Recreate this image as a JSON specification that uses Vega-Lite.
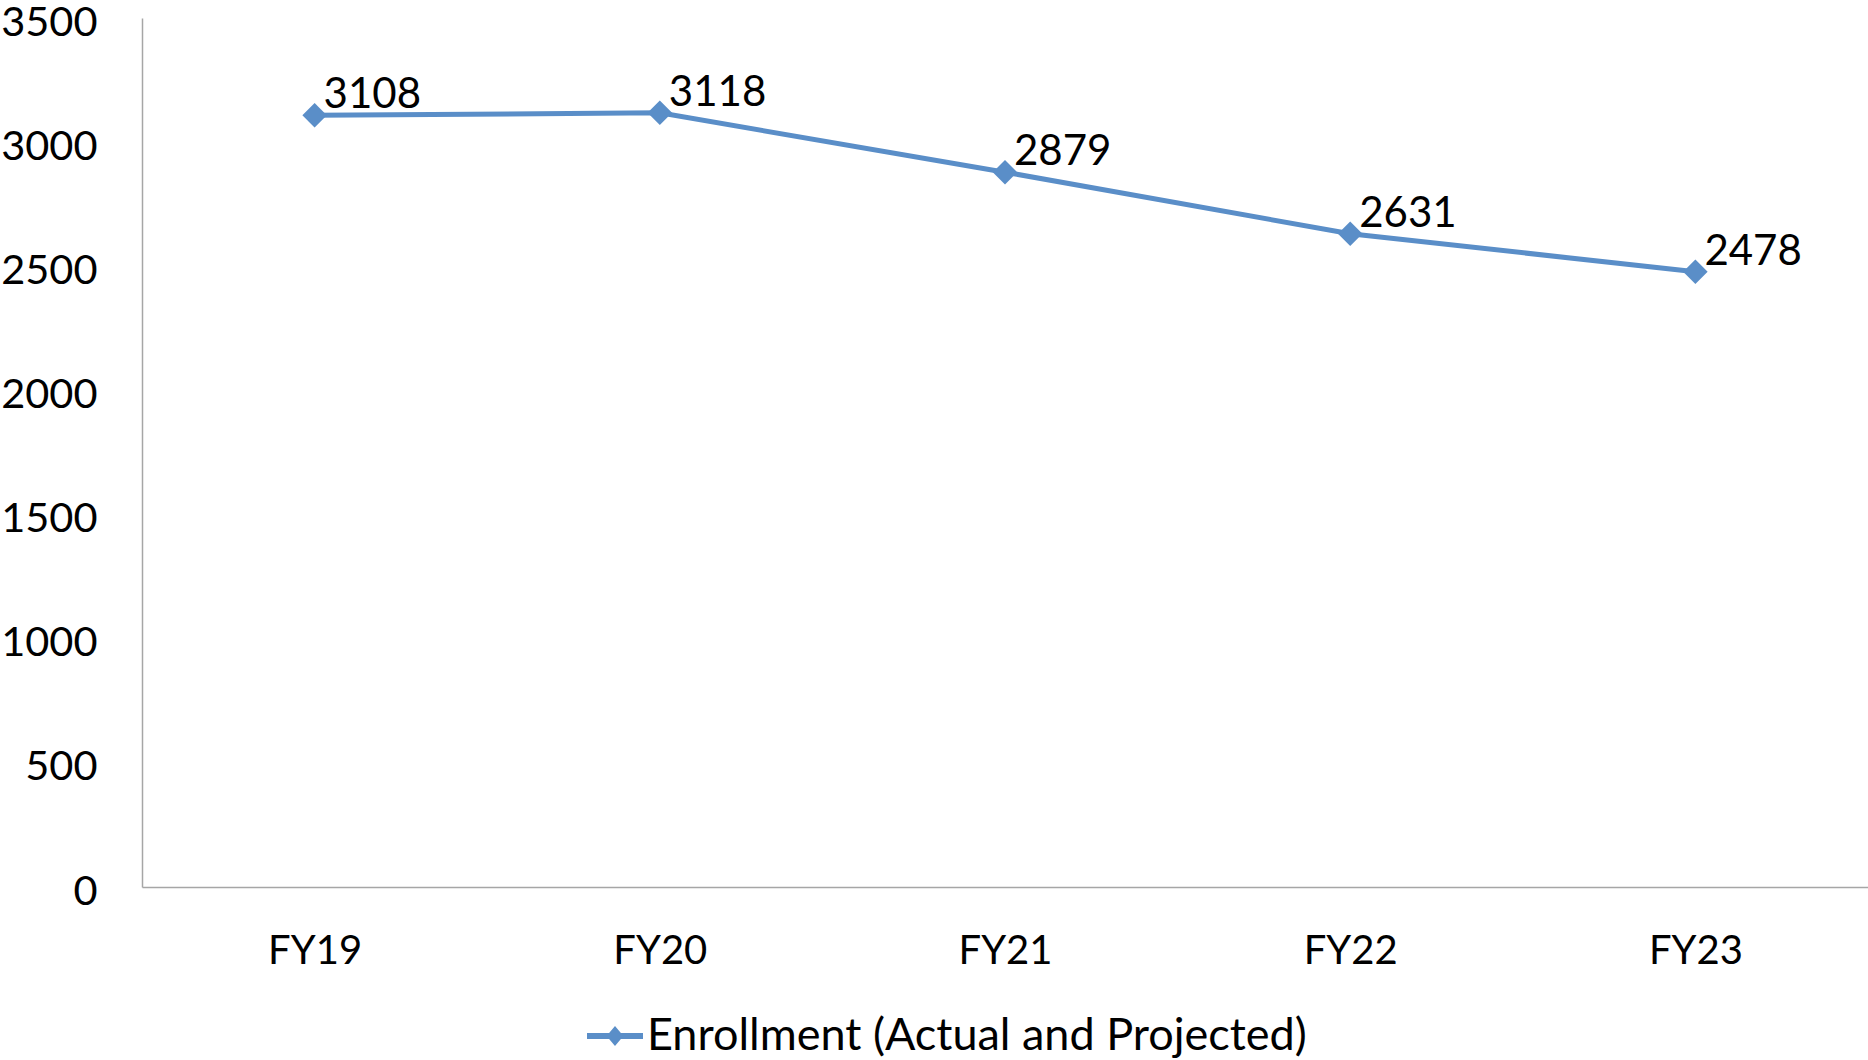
{
  "$schema": "https://vega.github.io/schema/vega-lite/v6.json",
  "autosize": {"type": "none"},
  "width": 1726,
  "height": 869,
  "padding": {"left": 142, "top": 18, "right": 0, "bottom": 173},
  "background": "white",
  "config": {
    "view": {"stroke": null},
    "font": "Lato",
    "axis": {"labelFont": "Lato", "labelFontSize": 40, "labelColor": "#000000", "grid": false, "ticks": false, "domainColor": "#a6a6a6", "domainWidth": 1.5, "title": null},
    "legend": {"labelFont": "Lato", "labelFontSize": 45, "labelColor": "#000000"}
  },
  "data": {
    "values": [
      {"year": "FY19", "enrollment": 3108, "series": "Enrollment (Actual and Projected)"},
      {"year": "FY20", "enrollment": 3118, "series": "Enrollment (Actual and Projected)"},
      {"year": "FY21", "enrollment": 2879, "series": "Enrollment (Actual and Projected)"},
      {"year": "FY22", "enrollment": 2631, "series": "Enrollment (Actual and Projected)"},
      {"year": "FY23", "enrollment": 2478, "series": "Enrollment (Actual and Projected)"}
    ]
  },
  "encoding": {
    "x": {"field": "year", "type": "ordinal", "scale": {"paddingInner": 0, "paddingOuter": 0, "align": 0.5}, "axis": {"labelAngle": 0, "labelPadding": 44}, "band": 0.5},
    "y": {"field": "enrollment", "type": "quantitative", "scale": {"domain": [0, 3500], "nice": false}, "axis": {"values": [0, 500, 1000, 1500, 2000, 2500, 3000, 3500], "format": "d", "labelPadding": 45, "labelOffset": 5, "labelFontSize": 41.5}}
  },
  "layer": [
    {
      "mark": {"type": "line", "strokeWidth": 5, "point": {"shape": "diamond", "size": 600, "filled": true, "opacity": 1}},
      "encoding": {
        "color": {"field": "series", "type": "nominal", "scale": {"range": ["#5a8ec8"]},
          "legend": {"title": null, "orient": "none", "legendX": 445, "legendY": 990, "labelLimit": 0, "symbolType": "M -1 -0.107 H 1 V 0.107 H -1 Z M 0 -0.36 L 0.3 0 L 0 0.36 L -0.3 0 Z", "symbolSize": 3136, "symbolStrokeWidth": 0, "symbolFillColor": "#5a8ec8", "labelOffset": 4}}
      }
    },
    {
      "mark": {"type": "text", "align": "left", "baseline": "alphabetic", "dx": 9, "dy": -7, "fontSize": 42, "font": "Lato", "color": "#000000"},
      "encoding": {"text": {"field": "enrollment", "type": "quantitative"}}
    }
  ]
}
